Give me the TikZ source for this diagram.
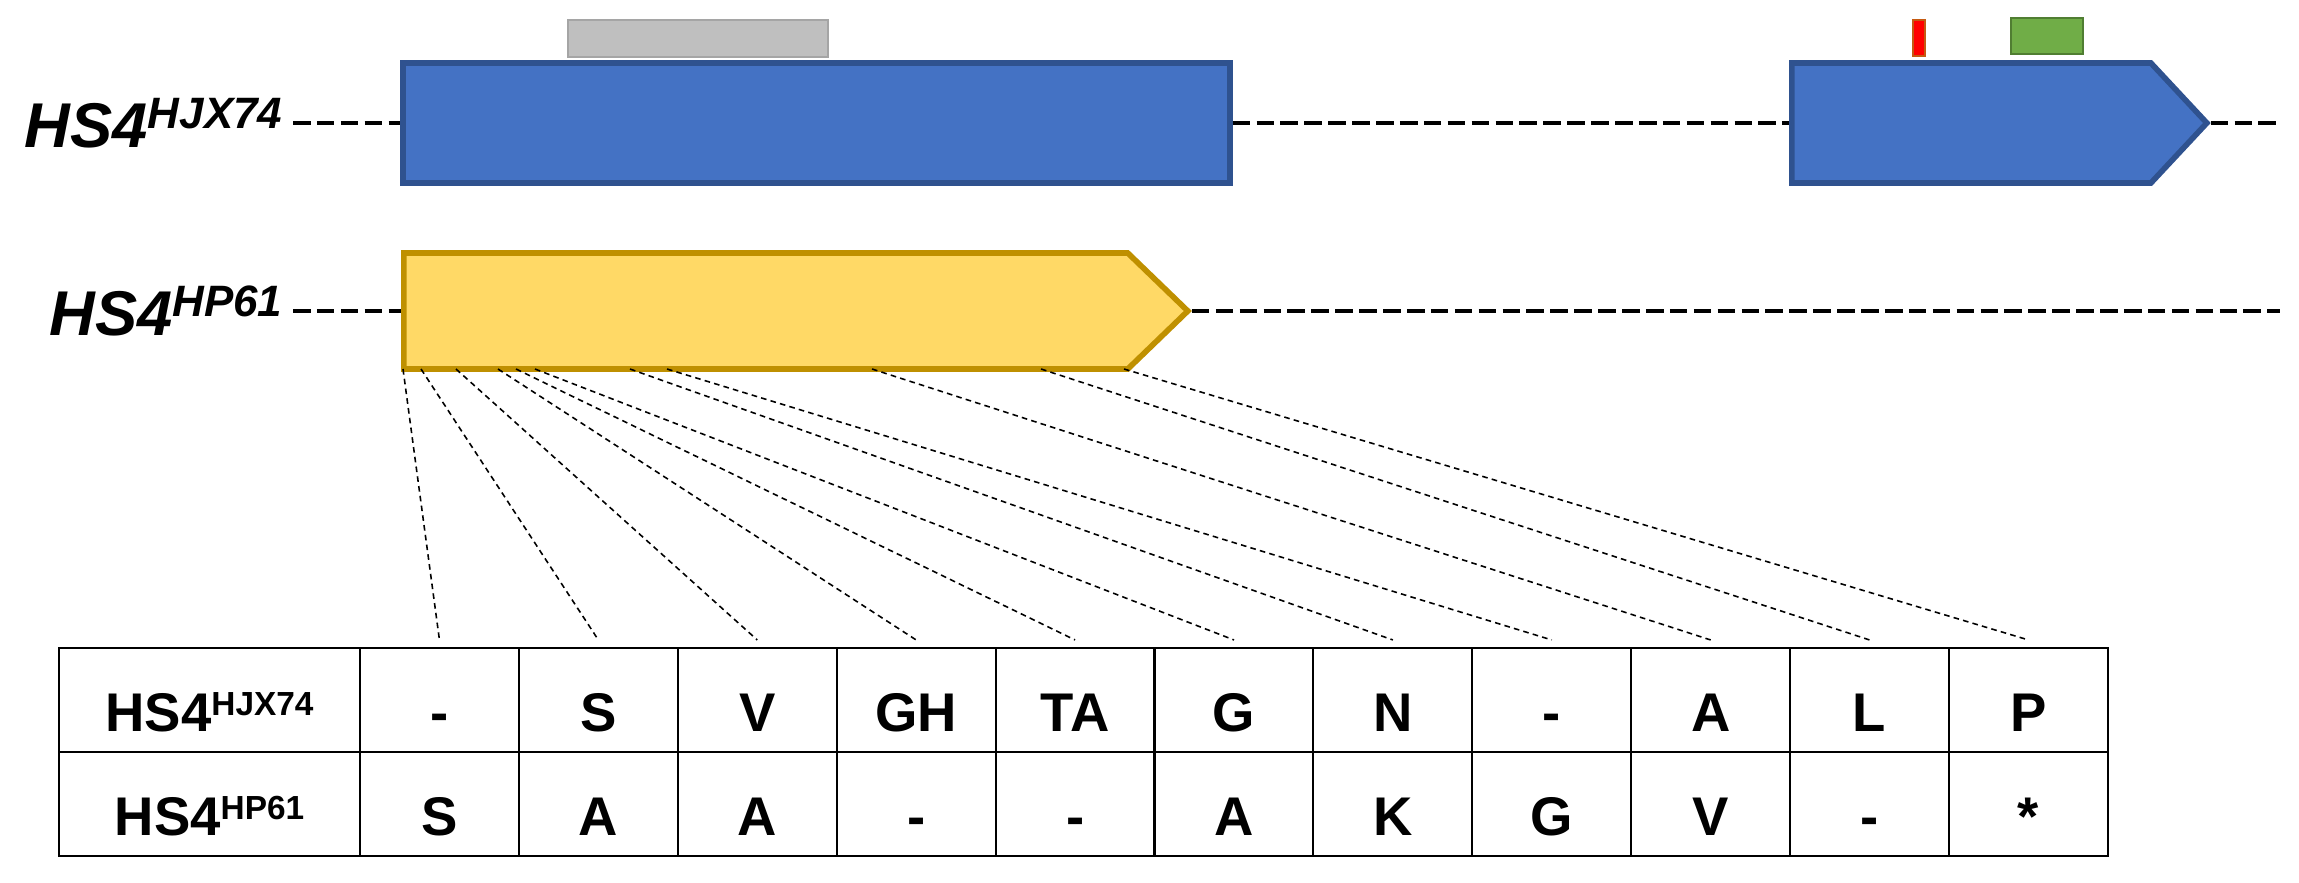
\documentclass[tikz,border=0pt]{standalone}
\usepackage{fontspec}
\setmainfont{Liberation Sans}
\usetikzlibrary{shapes.symbols}

\definecolor{exonblue}{HTML}{4472C4}
\definecolor{exonedge}{HTML}{2F528F}
\definecolor{hpfill}{HTML}{FFD966}
\definecolor{hpedge}{HTML}{BF9000}
\definecolor{domgray}{HTML}{BFBFBF}
\definecolor{domedge}{HTML}{A5A5A5}
\definecolor{motifgreen}{HTML}{70AD47}
\definecolor{motifedge}{HTML}{507E32}
\definecolor{mutedge}{HTML}{C55A11}

\newcommand{\genename}[2]{#1\raisebox{5.4pt}{\fontsize{12.5}{14}\selectfont #2}}
\newcommand{\rowname}[2]{#1\raisebox{4.5pt}{\fontsize{9.5}{11}\selectfont #2}}

\begin{document}
\begin{tikzpicture}[
  genomeline/.style={line width=1.2pt, dash pattern=on 5pt off 1.8pt},
  mapline/.style={line width=0.45pt, dash pattern=on 1.6pt off 1.2pt},
  exon/.style={draw=exonedge, fill=exonblue, line width=1.6pt, minimum height=1.2cm, inner sep=0pt},
  hpexon/.style={draw=hpedge, fill=hpfill, line width=1.6pt, minimum height=1.16cm, inner sep=0pt},
  featbox/.style={rectangle, line width=0.8pt, inner sep=0pt},
  genelab/.style={font=\fontsize{18}{20}\selectfont\bfseries\itshape, anchor=east, inner sep=0.1cm},
  cell/.style={draw, line width=0.6pt, minimum width=1.589cm, minimum height=1.04cm, inner sep=0pt,
    font=\fontsize{15.5}{17}\selectfont\bfseries, text height=0.63cm, text depth=0pt}
]
\useasboundingbox (0,0) rectangle (22.99,8.82);

% Gene models
\node[genelab] (lab1) at (2.93,7.59) {\genename{HS4}{HJX74}};
\node[exon, rectangle, minimum width=8.27cm, anchor=west] (ex1) at (4.00,7.59) {};
\node[exon, signal, signal to=east, signal pointer angle=94, minimum width=4.15cm, anchor=west] (ex2) at (17.89,7.59) {};
\coordinate (end1) at (22.79,7.59);

\node[genelab] (lab2) at (2.93,5.71) {\genename{HS4}{HP61}};
\node[hpexon, signal, signal to=east, signal pointer angle=88, minimum width=7.84cm, anchor=west] (hp) at (4.01,5.71) {};
\coordinate (end2) at (22.80,5.71);

% Features above the exons
\node[featbox, draw=domedge, fill=domgray, minimum width=2.60cm, minimum height=0.37cm] (dom) at (6.98,8.435) {};
\node[featbox, draw=mutedge, fill=red, minimum width=0.12cm, minimum height=0.36cm] (mut) at (19.19,8.44) {};
\node[featbox, draw=motifedge, fill=motifgreen, minimum width=0.72cm, minimum height=0.36cm] (motif) at (20.47,8.46) {};

% Genome lines
\draw[genomeline] (lab1.east) -- (ex1.west);
\draw[genomeline] (ex1.east) -- (ex2.west);
\draw[genomeline] (ex2.east) -- (end1);
\draw[genomeline] (lab2.east) -- (hp.west);
\draw[genomeline] (hp.east) -- (end2);

% Alignment table
\node[cell, minimum width=3.01cm] (hjx) at (2.095,1.82) {\rowname{HS4}{HJX74}};
\node[cell, minimum width=3.01cm] (hp61) at (2.095,0.78) {\rowname{HS4}{HP61}};
\foreach \a/\b [count=\i] in {-/S, S/A, V/A, GH/-, TA/-, G/A, N/K, -/G, A/V, L/-, P/*} {
  \node[cell] (t\i) at ({3.60+(\i-0.5)*1.589},1.82) {\a};
  \node[cell] (b\i) at ({3.60+(\i-0.5)*1.589},0.78) {\b};
}

% Mapping lines
\foreach \x [count=\i] in {4.03,4.21,4.56,4.98,5.16,5.35,6.30,6.67,8.72,10.41,11.24} {
  \coordinate (s\i) at (\x,5.13);
  \draw[mapline] (s\i) -- ([yshift=0.07cm]t\i.north);
}

\end{tikzpicture}
\end{document}
